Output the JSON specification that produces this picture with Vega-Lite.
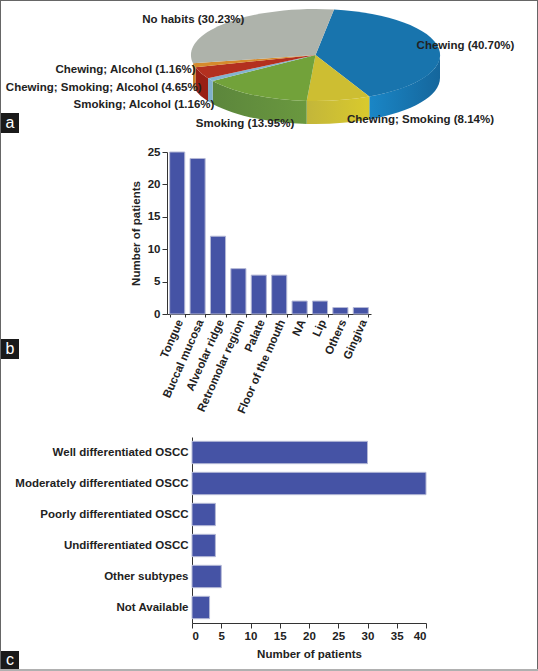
{
"$schema":"https://vega.github.io/schema/vega-lite/v6.json",
"padding":0,"spacing":0,"bounds":"full","center":false,"background":"white",
"config":{"view":{"stroke":null},"font":"Liberation Sans",
"axis":{"labelFont":"Liberation Sans","titleFont":"Liberation Sans","labelFontWeight":"bold","titleFontWeight":"bold","labelFontSize":11.5,"titleFontSize":11.5,"labelColor":"#222222","titleColor":"#222222","domainColor":"#333333","tickColor":"#333333","grid":false},
"text":{"font":"Liberation Sans","fontWeight":"bold","fontSize":11.5,"color":"#222222","baseline":"middle"}},
"datasets":{
"slices":[
{"slice":"Chewing","share":40.70,"label":"Chewing (40.70%)"},
{"slice":"Chewing; Smoking","share":8.14,"label":"Chewing; Smoking (8.14%)"},
{"slice":"Smoking","share":13.95,"label":"Smoking (13.95%)"},
{"slice":"Smoking; Alcohol","share":1.16,"label":"Smoking; Alcohol (1.16%)"},
{"slice":"Chewing; Smoking; Alcohol","share":4.65,"label":"Chewing; Smoking; Alcohol (4.65%)"},
{"slice":"Chewing; Alcohol","share":1.16,"label":"Chewing; Alcohol (1.16%)"},
{"slice":"No habits","share":30.23,"label":"No habits (30.23%)"}
],
"site":[
{"site":"Tongue","patients":25},{"site":"Buccal mucosa","patients":24},{"site":"Alveolar ridge","patients":12},{"site":"Retromolar region","patients":7},{"site":"Palate","patients":6},{"site":"Floor of the mouth","patients":6},{"site":"NA","patients":2},{"site":"Lip","patients":2},{"site":"Others","patients":1},{"site":"Gingiva","patients":1}
],
"grade":[
{"grade":"Well differentiated OSCC","patients":30},{"grade":"Moderately differentiated OSCC","patients":40},{"grade":"Poorly differentiated OSCC","patients":4},{"grade":"Undifferentiated OSCC","patients":4},{"grade":"Other subtypes","patients":5},{"grade":"Not Available","patients":3}
],
"a":[{"panel":"a"}],"b":[{"panel":"b"}],"c":[{"panel":"c"}]
},
"vconcat":[
{"width":154,"height":134,
"resolve":{"scale":{"color":"independent","shape":"independent"}},
"layer":[
{"data":{"name":"slices"},"transform":[{"filter":"datum.slice=='Chewing'"}],
"mark":{"type":"point","filled":true,"size":4,"opacity":1,"strokeWidth":0,"shape":"M171,-12A124.5,46,0,0,1,100.3,29.5L100.3,52.5A124.5,46,0,0,0,171,11Z","fill":{"gradient":"linear","x1":0,"y1":0,"x2":1,"y2":0,"stops":[{"offset":0,"color":"#1a86c6"},{"offset":1,"color":"#15669c"}]}},"encoding":{}},
{"data":{"name":"slices"},"transform":[{"filter":"datum.slice=='Chewing; Smoking'"}],
"mark":{"type":"point","filled":true,"size":4,"opacity":1,"strokeWidth":0,"shape":"M100.3,29.5A124.5,46,0,0,1,37.7,33.9L37.7,56.9A124.5,46,0,0,0,100.3,52.5Z","fill":{"gradient":"linear","x1":0,"y1":0,"x2":1,"y2":0,"stops":[{"offset":0,"color":"#c3b63a"},{"offset":1,"color":"#d9ca2d"}]}},"encoding":{}},
{"data":{"name":"slices"},"transform":[{"filter":"datum.slice=='Smoking'"}],
"mark":{"type":"point","filled":true,"size":4,"opacity":1,"strokeWidth":0,"shape":"M37.7,33.9A124.5,46,0,0,1,-56.3,13.9L-56.3,36.9A124.5,46,0,0,0,37.7,56.9Z","fill":{"gradient":"linear","x1":0,"y1":0,"x2":1,"y2":0,"stops":[{"offset":0,"color":"#5c863c"},{"offset":1,"color":"#6a983f"}]}},"encoding":{}},
{"data":{"name":"slices"},"transform":[{"filter":"datum.slice=='Smoking; Alcohol' || datum.slice=='Chewing; Smoking; Alcohol' || datum.slice=='Chewing; Alcohol'"}],
"mark":{"type":"point","filled":true,"size":4,"opacity":1,"strokeWidth":0},
"encoding":{
"shape":{"field":"slice","type":"nominal","legend":null,"scale":{"domain":["Smoking; Alcohol","Chewing; Smoking; Alcohol","Chewing; Alcohol"],"range":[
"M-56.3,13.9A124.5,46,0,0,1,-61,11.2L-61,34.2A124.5,46,0,0,0,-56.3,36.9Z",
"M-61,11.2A124.5,46,0,0,1,-73.5,0.2L-73.5,23.2A124.5,46,0,0,0,-61,34.2Z",
"M-73.5,0.2A124.5,46,0,0,1,-76,-3.7L-76,19.3A124.5,46,0,0,0,-73.5,23.2Z"]}},
"color":{"field":"slice","type":"nominal","legend":null,"scale":{"domain":["Smoking; Alcohol","Chewing; Smoking; Alcohol","Chewing; Alcohol"],"range":["#7fb0cb","#981f14","#c98227"]}}
}},
{"data":{"name":"slices"},
"mark":{"type":"point","filled":true,"size":4,"opacity":1,"strokeWidth":0},
"encoding":{
"shape":{"field":"slice","type":"nominal","legend":null,"scale":{"domain":["Chewing","Chewing; Smoking","Smoking","Smoking; Alcohol","Chewing; Smoking; Alcohol","Chewing; Alcohol","No habits"],"range":[
"M46.5,-12L65,-57.5A124.5,46,0,0,1,100.3,29.5Z",
"M46.5,-12L100.3,29.5A124.5,46,0,0,1,37.7,33.9Z",
"M46.5,-12L37.7,33.9A124.5,46,0,0,1,-56.3,13.9Z",
"M46.5,-12L-56.3,13.9A124.5,46,0,0,1,-61,11.2Z",
"M46.5,-12L-61,11.2A124.5,46,0,0,1,-73.5,0.2Z",
"M46.5,-12L-73.5,0.2A124.5,46,0,0,1,-76,-3.7Z",
"M46.5,-12L-76,-3.7A124.5,46,0,0,1,65,-57.5Z"]}},
"color":{"field":"slice","type":"nominal","legend":null,"scale":{"domain":["Chewing","Chewing; Smoking","Smoking","Smoking; Alcohol","Chewing; Smoking; Alcohol","Chewing; Alcohol","No habits"],"range":["#1874ad","#cdbe32","#72a23a","#84b4cf","#b3301f","#d68a2c","#aeb3ab"]}}
}},
{"data":{"name":"slices"},"transform":[{"filter":"datum.slice=='No habits'"}],"mark":{"type":"text","dx":-75.7,"dy":-47},"encoding":{"text":{"field":"label"}}},
{"data":{"name":"slices"},"transform":[{"filter":"datum.slice=='Chewing'"}],"mark":{"type":"text","dx":196.5,"dy":-21.3},"encoding":{"text":{"field":"label"}}},
{"data":{"name":"slices"},"transform":[{"filter":"datum.slice=='Chewing; Smoking'"}],"mark":{"type":"text","dx":151.5,"dy":53},"encoding":{"text":{"field":"label"}}},
{"data":{"name":"slices"},"transform":[{"filter":"datum.slice=='Smoking'"}],"mark":{"type":"text","dx":-24,"dy":57},"encoding":{"text":{"field":"label"}}},
{"data":{"name":"slices"},"transform":[{"filter":"datum.slice=='Smoking; Alcohol'"}],"mark":{"type":"text","dx":-125,"dy":38},"encoding":{"text":{"field":"label"}}},
{"data":{"name":"slices"},"transform":[{"filter":"datum.slice=='Chewing; Smoking; Alcohol'"}],"mark":{"type":"text","dx":-165.3,"dy":21},"encoding":{"text":{"field":"label"}}},
{"data":{"name":"slices"},"transform":[{"filter":"datum.slice=='Chewing; Alcohol'"}],"mark":{"type":"text","dx":-143.5,"dy":3.3},"encoding":{"text":{"field":"label"}}},
{"data":{"name":"a"},"mark":{"type":"point","filled":true,"size":4,"opacity":1,"strokeWidth":0,"color":"#666666","shape":"M-269,-67H269V-66H-269ZM-269,-67H-268V67H-269ZM268,-67H269V67H268Z"},"encoding":{}},
{"data":{"name":"a"},"mark":{"type":"point","filled":true,"size":4,"opacity":1,"strokeWidth":0,"color":"#1a1a1a","shape":"M-268,46H-250V66H-268Z"},"encoding":{}},
{"data":{"name":"a"},"mark":{"type":"text","dx":-259,"dy":56,"color":"white","fontWeight":"normal","fontSize":16},"encoding":{"text":{"field":"panel"}}}
]},
{"width":154,"height":162,
"layer":[
{"data":{"name":"site"},"mark":{"type":"bar","fill":"#4553a5","stroke":"#b4b8d6","strokeWidth":1},
"encoding":{
"x":{"field":"site","type":"nominal","sort":null,"scale":{"range":[-25,179],"paddingInner":0.26,"paddingOuter":0.13},"axis":{"title":null,"labelAngle":-66,"labelAlign":"right","labelBaseline":"middle","tickBand":"extent","tickSize":3,"labelPadding":3,"labelOffset":3,"labelLimit":0,"labelOverlap":false}},
"y":{"field":"patients","type":"quantitative","scale":{"domain":[0,25]},"axis":{"title":"Number of patients","values":[0,5,10,15,20,25],"tickSize":5,"titlePadding":6,"offset":25}}
}},
{"data":{"name":"b"},"mark":{"type":"point","filled":true,"size":4,"opacity":1,"strokeWidth":0,"color":"#666666","shape":"M-269,-99H-268V183H-269ZM268,-99H269V183H268Z"},"encoding":{}},
{"data":{"name":"b"},"mark":{"type":"point","filled":true,"size":4,"opacity":1,"strokeWidth":0,"color":"#1a1a1a","shape":"M-268,106H-250V126H-268Z"},"encoding":{}},
{"data":{"name":"b"},"mark":{"type":"text","dx":-259,"dy":116,"color":"white","fontWeight":"normal","fontSize":16},"encoding":{"text":{"field":"panel"}}}
]},
{"width":234,"height":186,
"layer":[
{"data":{"name":"grade"},"mark":{"type":"bar","fill":"#4553a5","stroke":"#b4b8d6","strokeWidth":1},
"encoding":{
"y":{"field":"grade","type":"nominal","sort":null,"scale":{"paddingInner":0.28,"paddingOuter":0.14},"axis":{"title":null,"ticks":false,"labelPadding":4,"labelLimit":0}},
"x":{"field":"patients","type":"quantitative","scale":{"domain":[0,40]},"axis":{"title":"Number of patients","values":[0,5,10,15,20,25,30,35,40],"tickSize":5,"titlePadding":7}}
}},
{"data":{"name":"c"},"mark":{"type":"point","filled":true,"size":4,"opacity":1,"strokeWidth":0,"color":"#666666","shape":"M-309,-114H-308V139H-309ZM228,-114H229V139H228Z"},"encoding":{}},
{"data":{"name":"c"},"mark":{"type":"point","filled":true,"size":4,"opacity":1,"strokeWidth":0,"color":"#b0b0b0","shape":"M-309,139H229V141H-309Z"},"encoding":{}},
{"data":{"name":"c"},"mark":{"type":"point","filled":true,"size":4,"opacity":1,"strokeWidth":0,"color":"#1a1a1a","shape":"M-308,121H-290V139H-308Z"},"encoding":{}},
{"data":{"name":"c"},"mark":{"type":"text","dx":-299,"dy":130,"color":"white","fontWeight":"normal","fontSize":16},"encoding":{"text":{"field":"panel"}}}
]}
]
}
